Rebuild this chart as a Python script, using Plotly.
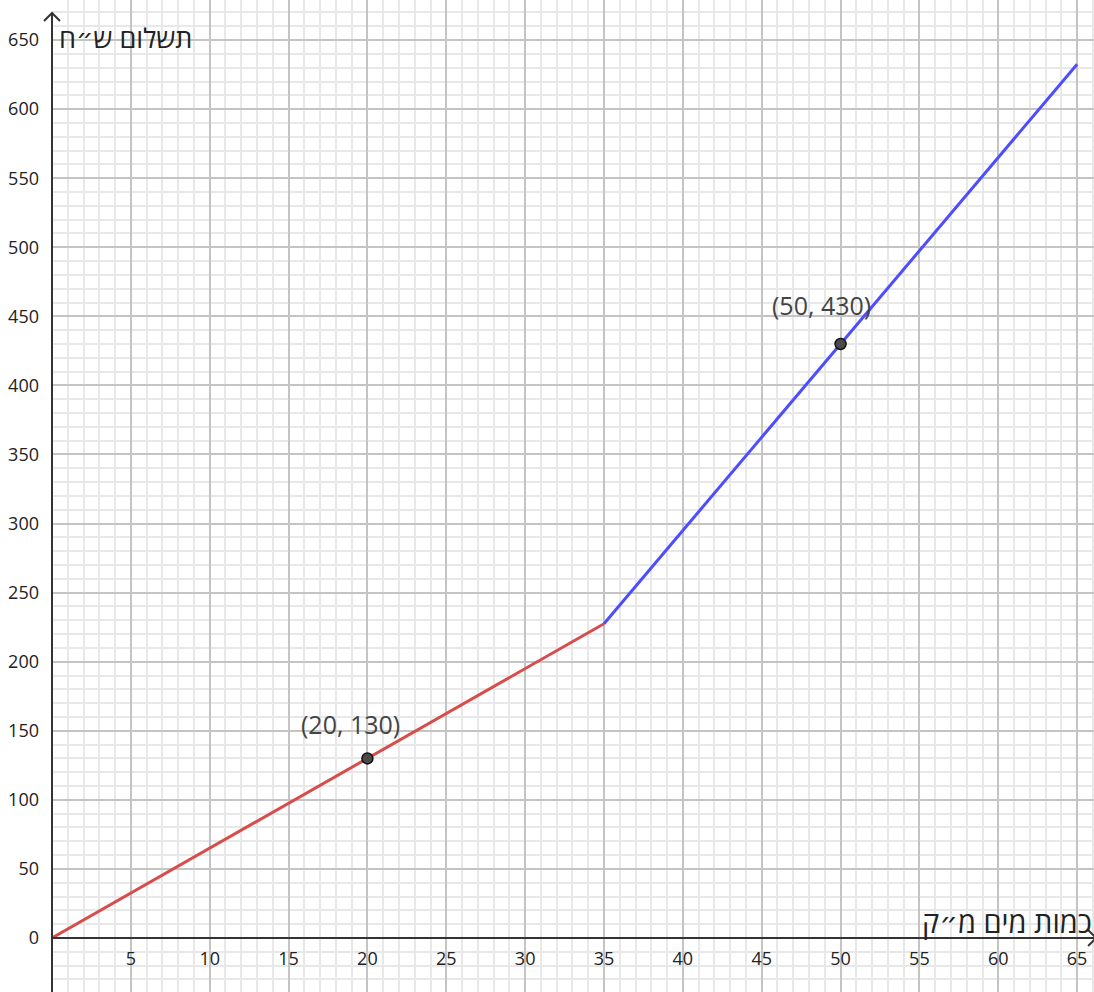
import plotly.graph_objects as go

# ---- data ----
red_x = [0, 35]
red_y = [0, 227.5]
blue_x = [35, 65]
blue_y = [227.5, 632.5]
point_x = [20, 50]
point_y = [130, 430]
x_ticks = [5, 10, 15, 20, 25, 30, 35, 40, 45, 50, 55, 60, 65]
y_ticks = [0, 50, 100, 150, 200, 250, 300, 350, 400, 450, 500, 550, 600, 650]
x_title = "כמות מים מ״ק"
y_title = "תשלום ש״ח"

X_MIN, X_MAX = 0, 66.07
Y_MIN, Y_MAX = -39.1, 679.0

FONT = "Open Sans, Noto Sans, DejaVu Sans, sans-serif"
AXIS_COLOR = "#333333"

fig = go.Figure()
fig.add_trace(go.Scatter(x=red_x, y=red_y, mode="lines",
                         line=dict(color="#D84C4C", width=3), hoverinfo="skip"))
fig.add_trace(go.Scatter(x=blue_x, y=blue_y, mode="lines",
                         line=dict(color="#4D4DFF", width=3), hoverinfo="skip"))
fig.add_trace(go.Scatter(x=point_x, y=point_y, mode="markers",
                         marker=dict(size=11, color="#4a4a4a",
                                     line=dict(color="#111111", width=1.5)),
                         hoverinfo="skip"))

# point labels
label_shifts = [(-17, 34), (-19, 39)]
for (px, py), (dx, dy) in zip(zip(point_x, point_y), label_shifts):
    fig.add_annotation(x=px, y=py, xref="x", yref="y", showarrow=False,
                       text=f"({px}, {py})", xshift=dx, yshift=dy,
                       font=dict(family=FONT, size=25, color="#444444"))

# axis titles
fig.add_annotation(x=0, y=650, xref="x", yref="y", showarrow=False,
                   text=y_title, xanchor="left", yanchor="middle", xshift=5,
                   yshift=3,
                   font=dict(family=FONT, size=27, color="#222222"))
fig.add_annotation(x=1, y=0, xref="paper", yref="y", showarrow=False,
                   text=x_title, xanchor="right", yanchor="bottom", xshift=0,
                   yshift=-5,
                   font=dict(family=FONT, size=29, color="#222222"))

# axis lines with open arrowheads
y_apex = 669.6
y_apex_paper = (y_apex - Y_MIN) / (Y_MAX - Y_MIN)
fig.add_shape(type="line", xref="paper", yref="paper", x0=0, x1=0, y0=0,
              y1=y_apex_paper, line=dict(color=AXIS_COLOR, width=2))
fig.add_shape(type="line", xref="paper", yref="y", x0=0, x1=1.01, y0=0, y1=0,
              line=dict(color=AXIS_COLOR, width=2))
fig.add_shape(type="path", xref="paper", yref="paper", xsizemode="pixel",
              ysizemode="pixel", xanchor=0, yanchor=y_apex_paper,
              path="M -8,-8 L 0,0 L 8,-8",
              line=dict(color=AXIS_COLOR, width=2))
fig.add_shape(type="path", xref="paper", yref="paper", xsizemode="pixel",
              ysizemode="pixel", xanchor=1.002,
              yanchor=(0 - Y_MIN) / (Y_MAX - Y_MIN),
              path="M -8,8 L 0,0 L -8,-8",
              line=dict(color=AXIS_COLOR, width=2))

fig.update_layout(
    width=1094, height=992,
    margin=dict(l=52, r=0, t=0, b=0),
    paper_bgcolor="white", plot_bgcolor="white",
    showlegend=False,
    xaxis=dict(
        range=[X_MIN, X_MAX], tickmode="array", tickvals=x_ticks,
        ticktext=[str(v) for v in x_ticks],
        anchor="free", position=54 / 992, automargin=False,
        showgrid=True, gridcolor="#c4c4c4", gridwidth=2,
        zeroline=False, showline=False, ticks="",
        ticklabelstandoff=8,
        tickfont=dict(family=FONT, size=18, color="#222222"),
        minor=dict(tickmode="linear", tick0=0, dtick=1, showgrid=True,
                   gridcolor="#e8e8e8", gridwidth=1.5),
        fixedrange=True,
    ),
    yaxis=dict(
        range=[Y_MIN, Y_MAX], tickmode="array", tickvals=y_ticks,
        ticktext=[str(v) for v in y_ticks], automargin=False,
        showgrid=True, gridcolor="#c4c4c4", gridwidth=2,
        zeroline=False, showline=False, ticks="",
        ticklabelstandoff=12,
        tickfont=dict(family=FONT, size=18, color="#222222"),
        minor=dict(tickmode="linear", tick0=0, dtick=10, showgrid=True,
                   gridcolor="#e8e8e8", gridwidth=1.5),
        fixedrange=True,
    ),
)

fig.write_html(
    "out.html",
    config={"displayModeBar": False},
    post_script="document.body.style.margin='0';document.body.style.overflow='hidden';",
)
